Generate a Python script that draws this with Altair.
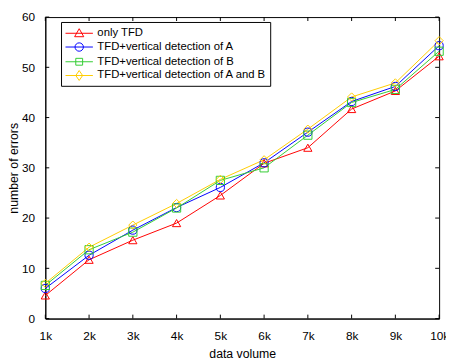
import altair as alt
import pandas as pd

volume = [1, 2, 3, 4, 5, 6, 7, 8, 9, 10]
series_names = [
    "only TFD",
    "TFD+vertical detection of A",
    "TFD+vertical detection of B",
    "TFD+vertical detection of A and B",
]
only_tfd = [4.6, 11.7, 15.6, 19.0, 24.5, 30.9, 34.0, 41.7, 45.3, 52.2]
det_a = [6.0, 12.6, 17.6, 22.1, 26.1, 31.0, 37.1, 43.2, 46.2, 54.3]
det_b = [6.6, 13.7, 17.2, 22.0, 27.5, 30.0, 36.5, 43.0, 45.6, 53.2]
det_ab = [7.0, 14.2, 18.6, 22.9, 27.7, 31.6, 37.7, 44.1, 46.9, 55.3]
x_ticks = [1, 2, 3, 4, 5, 6, 7, 8, 9, 10]
y_ticks = [0, 10, 20, 30, 40, 50, 60]

colors = ["#ff0000", "#0000ff", "#33cc33", "#ffcc00"]
markers = ["triangle-up", "circle", "square", "diamond"]
legend_paths = [
    "M-1.8,0L1.8,0M0,-0.6L0.6,0.45L-0.6,0.45Z",
    "M-1.8,0L1.8,0M0.55,0A0.55,0.55 0 1,1 -0.55,0A0.55,0.55 0 1,1 0.55,0",
    "M-1.8,0L1.8,0M-0.45,-0.45L0.45,-0.45L0.45,0.45L-0.45,0.45Z",
    "M-1.8,0L1.8,0M0,-0.65L0.45,0L0,0.65L-0.45,0Z",
]

rows = []
for name, vals in zip(series_names, [only_tfd, det_a, det_b, det_ab]):
    for v, e in zip(volume, vals):
        rows.append({"volume": v, "errors": e, "series": name})
df = pd.DataFrame(rows)

W, H = 401, 307
FONT = "Liberation Sans"

xs = alt.X(
    "volume:Q",
    scale=alt.Scale(domain=[1, 10], nice=False, zero=False),
    axis=alt.Axis(values=x_ticks, labelExpr="datum.value + 'k'", title="data volume",
                  ticks=False, grid=False, labelPadding=12, titlePadding=7,
                  labelFlush=False, labelOverlap=False),
)
ys = alt.Y(
    "errors:Q",
    scale=alt.Scale(domain=[0, 60], nice=False),
    axis=alt.Axis(values=y_ticks, title="number of errors", ticks=False, grid=False,
                  labelPadding=11, titlePadding=1, labelFlush=False, labelOverlap=False),
)
color_nolegend = alt.Color("series:N", scale=alt.Scale(domain=series_names, range=colors), legend=None)

base = alt.Chart(df)

leg = alt.Legend(
    title=None, orient="none", legendX=16, legendY=5,
    strokeColor="black", fillColor="white", padding=3,
    symbolSize=240, symbolStrokeWidth=1, symbolOffset=7, labelOffset=10,
    labelFontSize=11.5, labelFont=FONT, labelColor="black", rowPadding=0,
    labelLimit=400,
)
legend_layer = base.mark_point(opacity=0, filled=False).encode(
    x=xs, y=ys,
    color=alt.Color("series:N", scale=alt.Scale(domain=series_names, range=colors), legend=leg),
    shape=alt.Shape("series:N", scale=alt.Scale(domain=series_names, range=legend_paths), legend=leg),
)

lines = base.mark_line(strokeWidth=1).encode(x=xs, y=ys, color=color_nolegend)

marker_layers = []
for name, shp in zip(series_names, markers):
    marker_layers.append(
        base.transform_filter(alt.datum.series == name)
        .mark_point(shape=shp, size=70, filled=False, strokeWidth=1, opacity=1)
        .encode(x=xs, y=ys, color=color_nolegend)
    )

xt = pd.DataFrame({"volume": x_ticks})
yt = pd.DataFrame({"errors": y_ticks})
tick_bottom = alt.Chart(xt).mark_rule(color="black", strokeWidth=1).encode(
    x=xs, y=alt.value(H), y2=alt.value(H - 4))
tick_top = alt.Chart(xt).mark_rule(color="black", strokeWidth=1).encode(
    x=xs, y=alt.value(0), y2=alt.value(4))
tick_left = alt.Chart(yt).mark_rule(color="black", strokeWidth=1).encode(
    y=ys, x=alt.value(0), x2=alt.value(4))
tick_right = alt.Chart(yt).mark_rule(color="black", strokeWidth=1).encode(
    y=ys, x=alt.value(W), x2=alt.value(W - 4))

chart = alt.layer(
    legend_layer, tick_bottom, tick_top, tick_left, tick_right, lines, *marker_layers
).properties(
    width=W, height=H,
    autosize=alt.AutoSizeParams(type="none"),
    padding={"left": 38, "top": 6, "right": 7, "bottom": 42},
).configure_view(
    stroke="black", strokeWidth=1
).configure_axis(
    labelFont=FONT, titleFont=FONT, labelFontSize=12, titleFontSize=12.5,
    titleFontWeight="normal", labelColor="black", titleColor="black",
    domainColor="black", domainWidth=1,
)

chart.save("out.html", embed_options={"renderer": "svg", "actions": False})
